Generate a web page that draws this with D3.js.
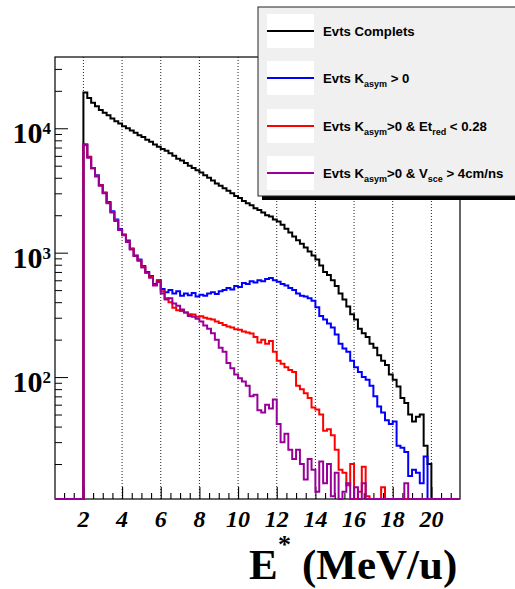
<!DOCTYPE html>
<html><head><meta charset="utf-8">
<script src="https://cdn.jsdelivr.net/npm/d3@7"></script>
<style>body{margin:0;background:#fff}svg{display:block}</style>
</head><body><svg id="c" width="515" height="589"></svg>
<script>
// ---- data (E* bins of 0.2 MeV/u starting at 2.0) ----
const binStart = 2.0;
const binWidth = 0.2;
const seriesNames = ["Evts Complets", "Evts Kasym > 0", "Evts Kasym>0 & Etred < 0.28", "Evts Kasym>0 & Vsce > 4cm/ns"];
const seriesColors = ["#000000", "#0000ff", "#ff0000", "#990099"];
const evtsComplets = [
  19400,17500,16000,15000,14000,13300,12700,12000,11400,10900,
  10400,10000,9600,9200,8800,8500,8100,7800,7400,7100,
  6800,6600,6300,6000,5700,5500,5250,5000,4800,4600,
  4400,4200,4000,3800,3600,3450,3300,3150,3000,2850,
  2750,2600,2500,2400,2280,2200,2100,2000,1950,1850,
  1780,1680,1560,1450,1350,1260,1180,1100,1020,950,
  880,790,700,660,600,540,470,420,370,320,
  290,245,225,210,185,172,150,135,125,105,
  95,84,68,62,50,44,48,50,28,20,
  0];
const evtsKasym = [
  7400,5900,4800,4200,3500,3050,2550,2150,1850,1550,
  1400,1250,1080,950,880,780,700,650,560,600,
  510,480,500,470,490,450,470,455,475,445,
  460,450,470,480,465,490,500,520,505,540,
  530,570,560,590,575,600,590,615,625,600,
  585,560,545,520,500,470,450,445,430,410,
  365,310,290,270,250,220,185,170,160,135,
  120,110,100,95,85,70,58,52,45,42,
  44,28,27,25,16,18,17,14,23,0,
  0];
const evtsEtred = [
  7300,5850,4750,4150,3480,3020,2520,2120,1820,1530,
  1390,1230,1070,945,870,770,690,640,550,590,
  490,430,400,360,345,340,330,320,318,305,
  308,300,295,290,280,272,262,255,250,242,
  240,232,228,224,210,190,200,185,195,160,
  135,128,120,114,110,85,80,74,68,57,
  55,50,37,38,34,26,18,17,13.5,20,
  8,12,19,11,8,0,0,13,0,0,
  0,0,0,0,0,0,0,0,0,0,
  0];
const evtsVsce = [
  7400,5800,4800,4100,3450,3000,2500,2100,1800,1520,
  1380,1220,1060,940,860,760,690,630,545,580,
  470,420,430,390,375,350,330,310,305,295,
  280,260,245,225,200,172,160,130,118,105,
  98,92,85,70,72,54,52,60,56,66,
  42,30,35,26,22,26,20,15,22,18,
  12,21,14,20,11,17,0,12,14,0,
  13,0,14,0,0,0,0,0,0,0,
  0,0,0,14,0,0,0,0,0,0,
  0];
const xMajorTicks = [2,4,6,8,10,12,14,16,18,20];
const yDecades = [100, 1000, 10000];
const yDecadeExp = ["2","3","4"];

// ---- layout ----
const svg = d3.select("#c");
const L = 55, R = 460, T = 57, B = 499;
const xDomain = [0.53, 21.48];
const yDomain = [10.47, 37400];
const x = d3.scaleLinear().domain(xDomain).range([L, R]);
const y = d3.scaleLog().domain(yDomain).range([B, T]);

// gridlines
svg.append("g").selectAll("line").data(xMajorTicks).join("line")
  .attr("x1", d => x(d)).attr("x2", d => x(d))
  .attr("y1", B).attr("y2", T)
  .attr("stroke", "#222").attr("stroke-width", 1).attr("stroke-dasharray", "1,2");

// frame
svg.append("rect").attr("x", L).attr("y", T).attr("width", R - L).attr("height", B - T)
  .attr("fill", "none").attr("stroke", "#000").attr("stroke-width", 1.2);

// x axis ticks (inward)
const xMinor = d3.range(1, 21.01, 0.5).filter(v => !xMajorTicks.includes(v));
svg.append("g").attr("transform", `translate(0,${B})`)
  .call(d3.axisTop(x).tickValues(xMinor).tickSize(6).tickFormat(""))
  .call(g => g.select(".domain").remove());
svg.append("g").attr("transform", `translate(0,${B})`)
  .call(d3.axisTop(x).tickValues(xMajorTicks).tickSize(12).tickFormat(""))
  .call(g => g.select(".domain").remove());
svg.selectAll("g.tick line").attr("stroke-width", 1.1);

svg.append("g").selectAll("text").data(xMajorTicks).join("text")
  .attr("x", d => x(d)).attr("y", 527)
  .attr("text-anchor", "middle")
  .attr("font-family", "'Liberation Serif', 'Times New Roman', serif")
  .attr("font-weight", "bold").attr("font-style", "italic")
  .attr("font-size", 24).text(d => d);

// y axis ticks (inward)
const yMinor = [];
[10, 100, 1000, 10000].forEach(dec => { for (let k = 2; k <= 9; k++) { const v = dec * k; if (v > yDomain[0] && v < yDomain[1]) yMinor.push(v); } });
svg.append("g").attr("transform", `translate(${L},0)`)
  .call(d3.axisRight(y).tickValues(yMinor).tickSize(7).tickFormat(""))
  .call(g => g.select(".domain").remove());
svg.append("g").attr("transform", `translate(${L},0)`)
  .call(d3.axisRight(y).tickValues(yDecades).tickSize(13).tickFormat(""))
  .call(g => g.select(".domain").remove());

const yl = svg.append("g").selectAll("text").data(yDecades).join("text")
  .attr("x", 51).attr("y", d => y(d) + 15)
  .attr("text-anchor", "end")
  .attr("font-family", "'Liberation Serif', 'Times New Roman', serif")
  .attr("font-weight", "bold");
yl.append("tspan").attr("font-size", 30).text("10");
yl.append("tspan").attr("font-size", 17).attr("dy", -9).text((d, i) => yDecadeExp[i]);

// histograms
svg.append("clipPath").attr("id", "clip").append("rect")
  .attr("x", L).attr("y", T).attr("width", R - L).attr("height", B - T + 1.5);
function stepPoints(vals) {
  const pts = [[xDomain[0], yDomain[0]], [binStart, yDomain[0]]];
  vals.forEach((v, i) => {
    const x0 = binStart + i * binWidth;
    const vv = Math.max(v, yDomain[0]);
    pts.push([x0, vv], [x0 + binWidth, vv]);
  });
  pts.push([binStart + vals.length * binWidth, yDomain[0]], [xDomain[1], yDomain[0]]);
  return pts;
}
const line = d3.line().x(d => x(d[0])).y(d => Math.min(y(d[1]), B));
const allSeries = [evtsComplets, evtsKasym, evtsEtred, evtsVsce];
svg.append("g").attr("clip-path", "url(#clip)").selectAll("path").data(allSeries).join("path")
  .attr("d", d => line(stepPoints(d)))
  .attr("fill", "none")
  .attr("stroke", (d, i) => seriesColors[i])
  .attr("stroke-width", 2);

// axis title (single text element)
const tf = "'Liberation Serif', 'Times New Roman', serif";
const title = svg.append("text").attr("y", 579).attr("font-family", tf).attr("font-weight", "bold").attr("font-size", 43);
title.append("tspan").attr("x", 249).text("E");
title.append("tspan").attr("x", 278).attr("dy", -26).attr("font-size", 26).text("*");
title.append("tspan").attr("x", 302).attr("dy", 26).text("(MeV/u)");

// legend
const lg = svg.append("g");
lg.append("rect").attr("x", 262).attr("y", 11).attr("width", 270).attr("height", 189).attr("fill", "#000");
lg.append("rect").attr("x", 258).attr("y", 7).attr("width", 270).attr("height", 189)
  .attr("fill", "#f0f0f0").attr("stroke", "#222").attr("stroke-width", 1);
const legendParts = [
  [["Evts Complets", 0]],
  [["Evts K", 0], ["asym", 1], [" > 0", 0]],
  [["Evts K", 0], ["asym", 1], [">0 & Et", 0], ["red", 1], [" < 0.28", 0]],
  [["Evts K", 0], ["asym", 1], [">0 & V", 0], ["sce", 1], [" > 4cm/ns", 0]]
];
const entryTop = [14, 61, 109, 156];
seriesNames.forEach((name, i) => {
  const t = entryTop[i];
  lg.append("rect").attr("x", 267).attr("y", t).attr("width", 47).attr("height", 34).attr("fill", "#fff");
  lg.append("line").attr("x1", 267).attr("x2", 314).attr("y1", t + 17).attr("y2", t + 17)
    .attr("stroke", seriesColors[i]).attr("stroke-width", 2);
  const tx = lg.append("text").attr("x", 323).attr("y", t + 22)
    .attr("font-family", "'Liberation Sans', Arial, sans-serif").attr("font-weight", "bold").attr("font-size", 13.2);
  let prevSub = 0;
  legendParts[i].forEach(([s, sub]) => {
    const ts = tx.append("tspan").text(s);
    if (sub) { ts.attr("font-size", 9).attr("dy", prevSub ? 0 : 4); }
    else if (prevSub) { ts.attr("dy", -4); }
    prevSub = sub;
  });
});
</script></body></html>
